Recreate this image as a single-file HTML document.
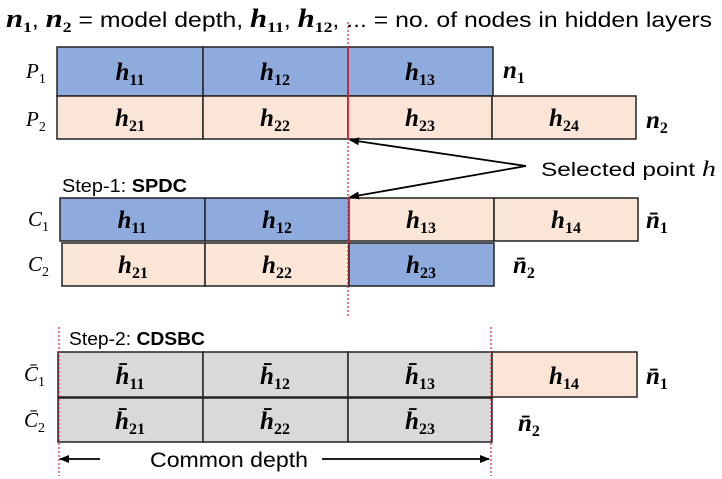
<!DOCTYPE html><html><head><style>body{margin:0;background:#fff}svg{display:block}</style></head><body>
<svg width="722" height="479" xmlns="http://www.w3.org/2000/svg" font-family="Liberation Sans, sans-serif">
<defs><marker id="a" markerWidth="10" markerHeight="8" refX="9" refY="4" orient="auto" markerUnits="userSpaceOnUse"><path d="M0,0L10,4L0,8z" fill="#000"/></marker></defs>
<text x="6" y="27" font-size="21" textLength="706" lengthAdjust="spacingAndGlyphs"><tspan font-family="Liberation Serif" font-weight="bold" font-style="italic" font-size="26">n</tspan><tspan font-size="15" font-family="Liberation Serif" font-weight="bold" dy="5">1</tspan><tspan dy="-5">, </tspan><tspan font-family="Liberation Serif" font-weight="bold" font-style="italic" font-size="26">n</tspan><tspan font-size="15" font-family="Liberation Serif" font-weight="bold" dy="5">2</tspan><tspan dy="-5"> = model depth, </tspan><tspan font-family="Liberation Serif" font-weight="bold" font-style="italic" font-size="26">h</tspan><tspan font-size="15" font-family="Liberation Serif" font-weight="bold" dy="5">11</tspan><tspan dy="-5">, </tspan><tspan font-family="Liberation Serif" font-weight="bold" font-style="italic" font-size="26">h</tspan><tspan font-size="15" font-family="Liberation Serif" font-weight="bold" dy="5">12</tspan><tspan dy="-5">, ... = no. of nodes in hidden layers</tspan></text>
<g stroke="#222" stroke-width="1.5">
<rect x="57" y="47" width="146" height="49" fill="#8faadc"/><rect x="203" y="47" width="145" height="49" fill="#8faadc"/><rect x="348" y="47" width="145" height="49" fill="#8faadc"/>
<rect x="57" y="96" width="146" height="43" fill="#fbe5d6"/><rect x="203" y="96" width="145" height="43" fill="#fbe5d6"/><rect x="348" y="96" width="144" height="43" fill="#fbe5d6"/><rect x="492" y="96" width="144" height="43" fill="#fbe5d6"/>
<rect x="60" y="198" width="145" height="43" fill="#8faadc"/><rect x="205" y="198" width="144" height="43" fill="#8faadc"/><rect x="349" y="198" width="145" height="43" fill="#fbe5d6"/><rect x="494" y="198" width="144" height="43" fill="#fbe5d6"/>
<rect x="62" y="243" width="143" height="43" fill="#fbe5d6"/><rect x="205" y="243" width="144" height="43" fill="#fbe5d6"/><rect x="349" y="243" width="145" height="43" fill="#8faadc"/>
<rect x="58" y="352" width="145" height="45" fill="#d9d9d9"/><rect x="203" y="352" width="145" height="45" fill="#d9d9d9"/><rect x="348" y="352" width="144" height="45" fill="#d9d9d9"/><rect x="492" y="352" width="145" height="45" fill="#fbe5d6"/>
<rect x="58" y="398" width="145" height="44" fill="#d9d9d9"/><rect x="203" y="398" width="145" height="44" fill="#d9d9d9"/><rect x="348" y="398" width="144" height="44" fill="#d9d9d9"/>
</g>
<g stroke="#e0203a" stroke-width="1.2" stroke-dasharray="2,2"><line x1="348" y1="22" x2="348" y2="316"/><line x1="59" y1="327" x2="59" y2="476"/><line x1="491" y1="327" x2="491" y2="476"/></g>
<g stroke="#e0203a" stroke-width="1.5"><line x1="348" y1="47" x2="348" y2="139"/><line x1="349" y1="198" x2="349" y2="243"/></g>
<g stroke="#000" stroke-width="1.8"><line x1="526" y1="166" x2="350" y2="140" marker-end="url(#a)"/><line x1="526" y1="166" x2="350" y2="197" marker-end="url(#a)"/>
<line x1="100" y1="459" x2="60" y2="459" marker-end="url(#a)"/><line x1="322" y1="459" x2="489" y2="459" marker-end="url(#a)"/></g>
<text x="541" y="176" font-size="19" textLength="175" lengthAdjust="spacingAndGlyphs">Selected point <tspan font-family="Liberation Serif" font-style="italic" font-size="22">h</tspan></text>
<text x="62" y="192" font-size="18" textLength="125" lengthAdjust="spacingAndGlyphs">Step-1: <tspan font-weight="bold">SPDC</tspan></text>
<text x="69" y="345" font-size="18" textLength="136" lengthAdjust="spacingAndGlyphs">Step-2: <tspan font-weight="bold">CDSBC</tspan></text>
<text x="150" y="467" font-size="21" textLength="158" lengthAdjust="spacingAndGlyphs">Common depth</text>
<g font-family="Liberation Serif" font-style="italic" font-size="21">
<text x="26" y="78">P<tspan font-style="normal" font-size="14" dy="5">1</tspan></text>
<text x="26" y="126">P<tspan font-style="normal" font-size="14" dy="5">2</tspan></text>
<text x="28" y="226">C<tspan font-style="normal" font-size="14" dy="5">1</tspan></text>
<text x="28" y="271">C<tspan font-style="normal" font-size="14" dy="5">2</tspan></text>
<text x="24" y="381">C̄<tspan font-style="normal" font-size="14" dy="5">1</tspan></text>
<text x="24" y="427">C̄<tspan font-style="normal" font-size="14" dy="5">2</tspan></text>
</g>
<g font-family="Liberation Serif" font-weight="bold" font-style="italic" font-size="25" text-anchor="middle">
<text x="130" y="80">h<tspan font-style="normal" font-size="16" dy="5">11</tspan></text>
<text x="275" y="80">h<tspan font-style="normal" font-size="16" dy="5">12</tspan></text>
<text x="420" y="80">h<tspan font-style="normal" font-size="16" dy="5">13</tspan></text>
<text x="130" y="126">h<tspan font-style="normal" font-size="16" dy="5">21</tspan></text>
<text x="275" y="126">h<tspan font-style="normal" font-size="16" dy="5">22</tspan></text>
<text x="420" y="126">h<tspan font-style="normal" font-size="16" dy="5">23</tspan></text>
<text x="564" y="126">h<tspan font-style="normal" font-size="16" dy="5">24</tspan></text>
<text x="132" y="228">h<tspan font-style="normal" font-size="16" dy="5">11</tspan></text>
<text x="277" y="228">h<tspan font-style="normal" font-size="16" dy="5">12</tspan></text>
<text x="421" y="228">h<tspan font-style="normal" font-size="16" dy="5">13</tspan></text>
<text x="566" y="228">h<tspan font-style="normal" font-size="16" dy="5">14</tspan></text>
<text x="133" y="273">h<tspan font-style="normal" font-size="16" dy="5">21</tspan></text>
<text x="277" y="273">h<tspan font-style="normal" font-size="16" dy="5">22</tspan></text>
<text x="421" y="273">h<tspan font-style="normal" font-size="16" dy="5">23</tspan></text>
<text x="130" y="384">h̄<tspan font-style="normal" font-size="16" dy="5">11</tspan></text>
<text x="275" y="384">h̄<tspan font-style="normal" font-size="16" dy="5">12</tspan></text>
<text x="420" y="384">h̄<tspan font-style="normal" font-size="16" dy="5">13</tspan></text>
<text x="564" y="384">h<tspan font-style="normal" font-size="16" dy="5">14</tspan></text>
<text x="130" y="429">h̄<tspan font-style="normal" font-size="16" dy="5">21</tspan></text>
<text x="275" y="429">h̄<tspan font-style="normal" font-size="16" dy="5">22</tspan></text>
<text x="420" y="429">h̄<tspan font-style="normal" font-size="16" dy="5">23</tspan></text>
</g>
<g font-family="Liberation Serif" font-weight="bold" font-style="italic" font-size="25">
<text x="503" y="78">n<tspan font-style="normal" font-size="16" dy="5">1</tspan></text>
<text x="646" y="128">n<tspan font-style="normal" font-size="16" dy="5">2</tspan></text>
<text x="646" y="228">n̄<tspan font-style="normal" font-size="16" dy="5">1</tspan></text>
<text x="513" y="273">n̄<tspan font-style="normal" font-size="16" dy="5">2</tspan></text>
<text x="646" y="384">n̄<tspan font-style="normal" font-size="16" dy="5">1</tspan></text>
<text x="518" y="431">n̄<tspan font-style="normal" font-size="16" dy="5">2</tspan></text>
</g>
</svg></body></html>
